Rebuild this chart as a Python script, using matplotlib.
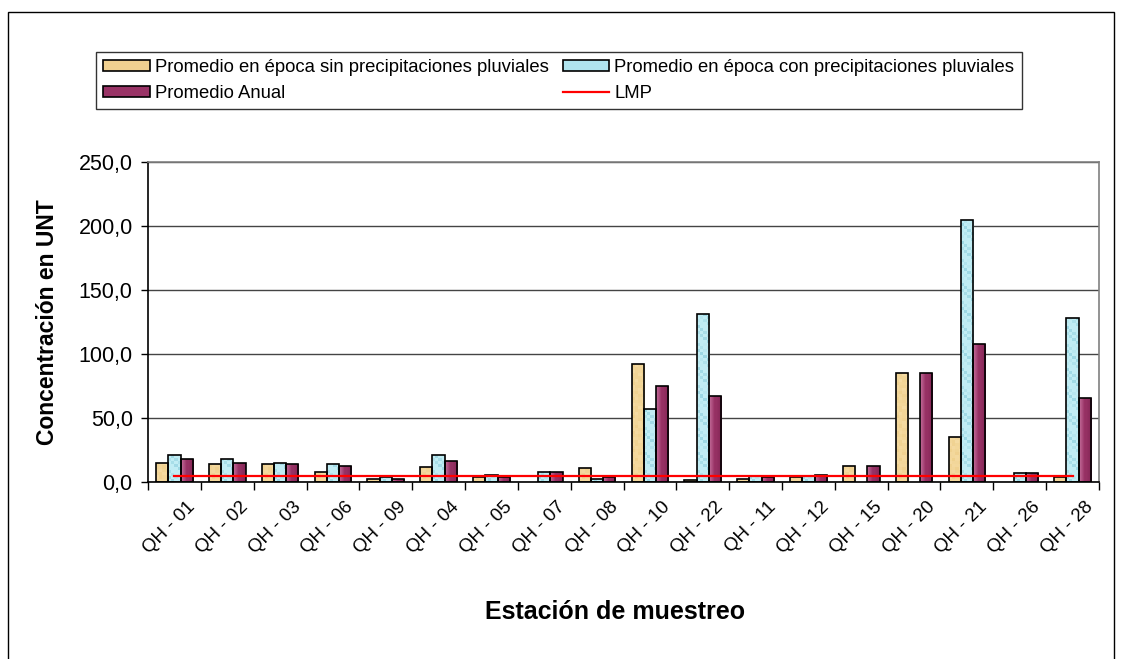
import numpy as np
import matplotlib
matplotlib.use("Agg")
import matplotlib.pyplot as plt
import matplotlib.transforms as mtransforms
from matplotlib.patches import Rectangle, Patch
from matplotlib.lines import Line2D

plt.rcParams['font.family'] = ['Liberation Sans', 'DejaVu Sans']

# Turbidity by sampling station (UNT)
stations = ["QH - 01", "QH - 02", "QH - 03", "QH - 06", "QH - 09", "QH - 04",
            "QH - 05", "QH - 07", "QH - 08", "QH - 10", "QH - 22", "QH - 11",
            "QH - 12", "QH - 15", "QH - 20", "QH - 21", "QH - 26", "QH - 28"]
dry_season = [15.0, 14.0, 14.0, 8.0, 2.3, 12.0, 3.7, np.nan, 11.0, 92.0, 1.2, 2.6,
              4.2, 12.5, 85.0, 35.0, np.nan, 3.9]
wet_season = [21.0, 18.0, 15.0, 14.0, 4.0, 21.0, 5.8, 7.8, 2.6, 57.0, 131.5, 5.0,
              5.0, np.nan, np.nan, 204.5, 7.0, 128.5]
annual_mean = [18.0, 15.0, 14.0, 12.5, 2.5, 16.5, 4.2, 7.8, 4.2, 75.0, 67.0, 4.0,
               5.5, 12.5, 85.0, 108.0, 7.3, 65.5]
lmp = 5.0

labels = ["Promedio en época sin precipitaciones pluviales",
          "Promedio en época con precipitaciones pluviales",
          "Promedio Anual", "LMP"]

W, H = 1122, 659
fig = plt.figure(figsize=(W / 100, H / 100), dpi=100)
ax = fig.add_axes([148 / W, 1 - 482 / H, (1099 - 148) / W, (482 - 162) / H])

PX_PER_UNIT = 320 / 250.0


def texture(kind, height):
    """Small RGB tile imitating the spreadsheet fill textures."""
    rows = max(2, int(round(height * PX_PER_UNIT / 3.0)))
    if kind == "tan":
        base = np.array([0.94, 0.82, 0.56])
        light = np.array([0.98, 0.89, 0.70])
        cols = 4
        img = np.empty((rows, cols, 3))
        for r in range(rows):
            for c in range(cols):
                t = 0.5 + 0.5 * np.sin(r * 1.7 + c * 2.3) * np.cos(r * 0.6 - c)
                img[r, c] = base * (1 - 0.6 * t) + light * 0.6 * t
        return img
    if kind == "cyan":
        light = np.array([0.76, 0.93, 0.96])
        dark = np.array([0.50, 0.78, 0.84])
        cols = 4
        img = np.empty((rows, cols, 3))
        for r in range(rows):
            for c in range(cols):
                chk = (r + c) % 2
                w = 0.55 * chk * (0.5 + 0.5 * np.sin(r * 0.9 + c * 1.3))
                img[r, c] = light * (1 - w) + dark * w
        return img
    # purple: horizontal shading, light on the left edge
    cols = 12
    left = np.array([0.76, 0.42, 0.60])
    mid = np.array([0.60, 0.20, 0.40])
    right = np.array([0.52, 0.15, 0.34])
    img = np.empty((1, cols, 3))
    for c in range(cols):
        t = c / (cols - 1)
        if t < 0.45:
            img[0, c] = left + (mid - left) * (t / 0.45)
        else:
            img[0, c] = mid + (right - mid) * ((t - 0.45) / 0.55)
    return img


x = np.arange(len(stations))
bw = 0.232
series = [(dry_season, "tan", -bw), (wet_season, "cyan", 0.0), (annual_mean, "purple", bw)]
for vals, kind, off in series:
    bars = ax.bar(x + off, vals, width=bw, facecolor="none", edgecolor="black",
                  linewidth=1.2, zorder=3)
    for p in bars:
        h = p.get_height()
        if not np.isfinite(h) or h <= 0:
            continue
        x0, w = p.get_x(), p.get_width()
        im = ax.imshow(texture(kind, h), extent=(x0, x0 + w, 0, h), origin="lower",
                       aspect="auto", interpolation="nearest", zorder=2.5)
        im.set_clip_path(p)

ax.plot(x, [lmp] * len(x), color="#ff0000", linewidth=1.6, zorder=4)

ax.set_xlim(-0.5, len(stations) - 0.5)
ax.set_ylim(0, 250)
ax.set_yticks(np.arange(0, 251, 50))
ax.set_yticklabels([f"{v:.1f}".replace(".", ",") for v in np.arange(0, 251, 50)],
                   fontsize=15.5)
ax.yaxis.grid(True, color="#444444", linewidth=1.0, zorder=1)
ax.set_axisbelow(True)

ax.set_xticks(x)
ax.set_xticklabels(stations, rotation=45, ha="right", va="top",
                   rotation_mode="anchor", fontsize=13.5)
ax.tick_params(axis="x", length=0, pad=12)
shift = mtransforms.ScaledTranslation(12 / 100, 0, fig.dpi_scale_trans)
for lbl in ax.get_xticklabels():
    lbl.set_transform(lbl.get_transform() + shift)
ax.set_xticks(np.arange(-0.5, len(stations), 1.0), minor=True)
ax.tick_params(axis="x", which="minor", length=6, width=1, direction="out")
ax.tick_params(axis="y", length=5, width=1, direction="out", pad=6)

for side in ("left", "bottom"):
    ax.spines[side].set_color("black")
    ax.spines[side].set_linewidth(1.2)
for side in ("top", "right"):
    ax.spines[side].set_color("#808080")
    ax.spines[side].set_linewidth(1.2)

ax.set_ylabel("Concentración en UNT", fontsize=16.5, fontweight="bold")
ax.yaxis.set_label_coords((48 - 148) / 951, 0.5)
ax.yaxis.label.set_va("center")
ax.set_xlabel("Estación de muestreo", fontsize=18, fontweight="bold")
ax.xaxis.set_label_coords((615 - 148) / 951, (482 - 612) / 320)
ax.xaxis.label.set_va("center")

handles = [Patch(facecolor="#f0d090", edgecolor="black", linewidth=1.2),
           Patch(facecolor="#993366", edgecolor="black", linewidth=1.2),
           Patch(facecolor="#b0e4ee", edgecolor="black", linewidth=1.2),
           Line2D([0], [0], color="#ff0000", linewidth=1.6)]
leg_labels = [labels[0], labels[2], labels[1], labels[3]]
leg = fig.legend(handles, leg_labels, ncol=2, loc="upper left",
                 bbox_to_anchor=(96 / W, 1 - 52 / H), bbox_transform=fig.transFigure,
                 fontsize=13.3, frameon=True, fancybox=False, borderaxespad=0,
                 handlelength=2.5, handleheight=0.55, handletextpad=0.27,
                 columnspacing=0.8, labelspacing=0.45, borderpad=0.4)
leg.get_frame().set_edgecolor("black")
leg.get_frame().set_linewidth(1.0)

# chart-area frame
fig.add_artist(Rectangle((8 / W, -0.05), (1114 - 8) / W, 1 - 12 / H + 0.05,
                         transform=fig.transFigure, fill=False,
                         edgecolor="black", linewidth=1.0))

fig.savefig("out.png", dpi=100)
